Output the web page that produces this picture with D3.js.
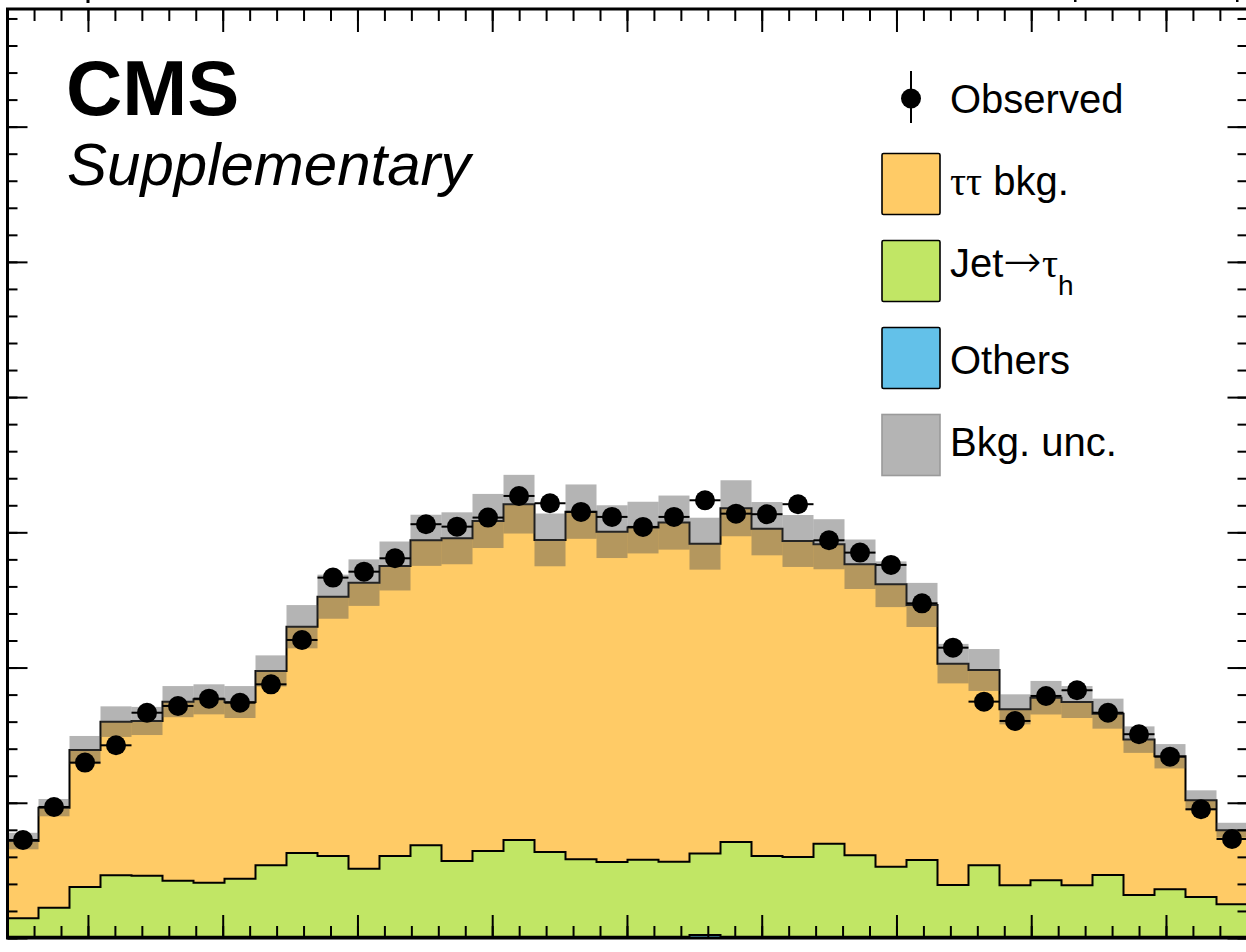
<html>
<head>
<meta charset="utf-8">
<script src="https://d3js.org/d3.v7.min.js"></script>
<style>
body { margin: 0; background: white; }
text { font-family: "Liberation Sans", Arial, Helvetica, sans-serif; }
</style>
</head>
<body>
<div id="chart"></div>
<script>

// 40 bins (arbitrary units, 1000 per major y tick)
var observed = [725, 969, 1297, 1425, 1666, 1716, 1770, 1740, 1876, 2204,
                2665, 2709, 2808, 3060, 3042, 3109, 3269, 3215, 3151, 3114,
                3040, 3114, 3237, 3138, 3134, 3208, 2941, 2850, 2759, 2475,
                2147, 1748, 1605, 1790, 1832, 1666, 1507, 1341, 952, 732];
var tautau = [571, 740, 1013, 1136, 1144, 1324, 1356, 1306, 1437, 1673,
              1918, 2115, 2145, 2255, 2387, 2441, 2483, 2308, 2571, 2443,
              2456, 2508, 2292, 2468, 2421, 2337, 2215, 2152, 2089, 1886,
              1637, 1444, 1301, 1350, 1355, 1193, 1149, 984, 715, 548];
var jetFakes = [136, 214, 367, 454, 451, 414, 399, 429, 528, 619,
                596, 503, 596, 676, 559, 633, 715, 626, 572, 552,
                569, 554, 602, 700, 596, 589, 687, 602, 517, 567,
                382, 528, 380, 417, 380, 456, 308, 350, 293, 239];
var others = [10, 10, 10, 10, 10, 10, 10, 10, 10, 10,
              10, 10, 10, 10, 10, 10, 10, 10, 10, 10,
              10, 10, 22, 10, 10, 10, 10, 10, 10, 10,
              10, 10, 10, 10, 10, 10, 10, 10, 10, 10];
var bkgUnc = [61, 64, 104, 113, 104, 115, 111, 118, 115, 160,
              163, 172, 181, 189, 192, 200, 217, 195, 201, 195,
              191, 200, 192, 207, 197, 192, 185, 183, 169, 163,
              146, 155, 111, 124, 118, 111, 98, 90, 74, 55];

var xMin = -0.597, xMax = 8.605, nBins = 40;
var yMax = 6870;
var xMajor = d3.range(0, 9, 1);
var xMinor = d3.range(-0.4, 8.61, 0.2);
var yMajor = d3.range(0, 6001, 1000);
var yMinor = d3.range(0, 6801, 200);

var legendItems = [
  {parts: [["Observed", ""]], kind: "data", base: 113},
  {parts: [["ττ", "sym"], [" bkg.", ""]], kind: "box", fill: "#ffcb66", base: 194.5},
  {parts: [["Jet", ""], ["→", "arrow"], ["τ", "sym"], ["h", "sub"]], kind: "box", fill: "#c1e665", base: 277},
  {parts: [["Others", ""]], kind: "box", fill: "#63c1e9", base: 373.5},
  {parts: [["Bkg. unc.", ""]], kind: "unc", base: 456}
];

var W = 1246, H = 952;
var frame = {left: 7.5, right: 1247.5, top: 9, bottom: 938};

var svg = d3.select("#chart")
  .append("svg")
    .attr("width", W)
    .attr("height", H);

var x = d3.scaleLinear().domain([xMin, xMax]).range([frame.left, frame.right]);
var y = d3.scaleLinear().domain([0, yMax]).range([frame.bottom, frame.top]);

var binW = (xMax - xMin) / nBins;
var edges = d3.range(nBins + 1).map(function(i) { return xMin + i * binW; });

// cumulative stack levels
var lvlOthers = others.slice();
var lvlJet = others.map(function(d, i) { return d + jetFakes[i]; });
var lvlTotal = lvlJet.map(function(d, i) { return d + tautau[i]; });

function stepPoints(vals) {
  var pts = vals.map(function(v, i) { return [edges[i], v]; });
  pts.push([edges[nBins], vals[nBins - 1]]);
  return pts;
}

var area = d3.area()
  .curve(d3.curveStepAfter)
  .x(function(d) { return x(d[0]); })
  .y0(y(0))
  .y1(function(d) { return y(d[1]); });

var line = d3.line()
  .curve(d3.curveStepAfter)
  .x(function(d) { return x(d[0]); })
  .y(function(d) { return y(d[1]); });

var stack = [
  {vals: lvlTotal, fill: "#ffcb66"},
  {vals: lvlJet, fill: "#c1e665"},
  {vals: lvlOthers, fill: "#63c1e9"}
];

stack.forEach(function(s) {
  svg.append("path")
    .attr("d", area(stepPoints(s.vals)))
    .attr("fill", s.fill);
  svg.append("path")
    .attr("d", line(stepPoints(s.vals)))
    .attr("fill", "none")
    .attr("stroke", "black")
    .attr("stroke-width", 2);
});

// uncertainty band
svg.append("g")
  .selectAll("rect")
  .data(lvlTotal)
  .enter()
  .append("rect")
    .attr("x", function(d, i) { return x(edges[i]); })
    .attr("width", function(d, i) { return x(edges[i + 1]) - x(edges[i]); })
    .attr("y", function(d, i) { return y(d + bkgUnc[i]); })
    .attr("height", function(d, i) { return y(d - bkgUnc[i]) - y(d + bkgUnc[i]); })
    .attr("fill", "#555")
    .attr("fill-opacity", 0.44);

// observed points with x error bars
var pts = svg.append("g");
pts.selectAll("line")
  .data(observed)
  .enter()
  .append("line")
    .attr("x1", function(d, i) { return x(edges[i]); })
    .attr("x2", function(d, i) { return x(edges[i + 1]); })
    .attr("y1", function(d) { return y(d); })
    .attr("y2", function(d) { return y(d); })
    .attr("stroke", "black")
    .attr("stroke-width", 2);
pts.selectAll("circle")
  .data(observed)
  .enter()
  .append("circle")
    .attr("cx", function(d, i) { return x((edges[i] + edges[i + 1]) / 2); })
    .attr("cy", function(d) { return y(d); })
    .attr("r", 10)
    .attr("fill", "black");

// ticks on all four sides, pointing inwards
function ticks(axis, tx, ty) {
  svg.append("g")
    .attr("transform", "translate(" + tx + "," + ty + ")")
    .call(axis)
    .call(function(g) { g.select(".domain").remove(); })
    .call(function(g) { g.selectAll(".tick line").attr("stroke", "black").attr("stroke-width", 2); });
}
ticks(d3.axisBottom(x).tickValues(xMajor).tickSize(-23).tickFormat(""), 0, frame.bottom);
ticks(d3.axisBottom(x).tickValues(xMinor).tickSize(-12).tickFormat(""), 0, frame.bottom);
ticks(d3.axisTop(x).tickValues(xMajor).tickSize(-23).tickFormat(""), 0, frame.top);
ticks(d3.axisTop(x).tickValues(xMinor).tickSize(-12).tickFormat(""), 0, frame.top);
ticks(d3.axisLeft(y).tickValues(yMajor).tickSize(-20).tickFormat(""), frame.left, 0);
ticks(d3.axisLeft(y).tickValues(yMinor).tickSize(-10).tickFormat(""), frame.left, 0);
ticks(d3.axisRight(y).tickValues(yMajor).tickSize(-20).tickFormat(""), frame.right, 0);
ticks(d3.axisRight(y).tickValues(yMinor).tickSize(-10).tickFormat(""), frame.right, 0);

svg.append("rect")
  .attr("x", frame.left)
  .attr("y", frame.top)
  .attr("width", frame.right - frame.left)
  .attr("height", frame.bottom - frame.top)
  .attr("fill", "none")
  .attr("stroke", "black")
  .attr("stroke-width", 3);

// bits of the panel above that peek in at the top edge
svg.append("rect").attr("x", 86.5).attr("y", 0).attr("width", 3).attr("height", 3).attr("fill", "black");
svg.append("rect").attr("x", 1074).attr("y", 0).attr("width", 2.5).attr("height", 2).attr("fill", "black");
svg.append("rect").attr("x", 1236).attr("y", 0).attr("width", 2.5).attr("height", 2).attr("fill", "black");

svg.append("text")
  .attr("x", 66)
  .attr("y", 115)
  .style("font-size", "78px")
  .style("font-weight", "bold")
  .text("CMS");

svg.append("text")
  .attr("x", 67)
  .attr("y", 185)
  .style("font-size", "60px")
  .style("font-style", "italic")
  .text("Supplementary");

// legend
var leg = svg.append("g");
legendItems.forEach(function(item, i) {
  var top = 153.5 + (i - 1) * 87;
  if (item.kind == "data") {
    leg.append("line")
      .attr("x1", 911).attr("x2", 911)
      .attr("y1", 71).attr("y2", 123)
      .attr("stroke", "black")
      .attr("stroke-width", 2);
    leg.append("circle")
      .attr("cx", 911).attr("cy", 98.5)
      .attr("r", 10)
      .attr("fill", "black");
  } else if (item.kind == "box") {
    leg.append("rect")
      .attr("x", 882).attr("y", top)
      .attr("width", 58).attr("height", 61)
      .attr("rx", 1.5)
      .attr("fill", item.fill)
      .attr("stroke", "black")
      .attr("stroke-width", 1.6);
  } else {
    leg.append("rect")
      .attr("x", 882).attr("y", top)
      .attr("width", 58).attr("height", 61)
      .attr("fill", "#b4b4b4")
      .attr("stroke", "#9a9a9a")
      .attr("stroke-width", 1.6);
  }
  var t = leg.append("text")
    .attr("x", 950)
    .attr("y", item.base)
    .style("font-size", "40px");
  item.parts.forEach(function(p) {
    var ts = t.append("tspan").text(p[0]);
    if (p[1] == "sym") ts.style("font-family", "'Liberation Serif', 'DejaVu Serif', serif");
    if (p[1] == "arrow") ts.style("font-family", "'DejaVu Sans', sans-serif").style("font-size", "46px").style("font-weight", "200");
    if (p[1] == "sub") ts.style("font-size", "28px").attr("dy", 18);
  });
});

</script>
</body>
</html>
